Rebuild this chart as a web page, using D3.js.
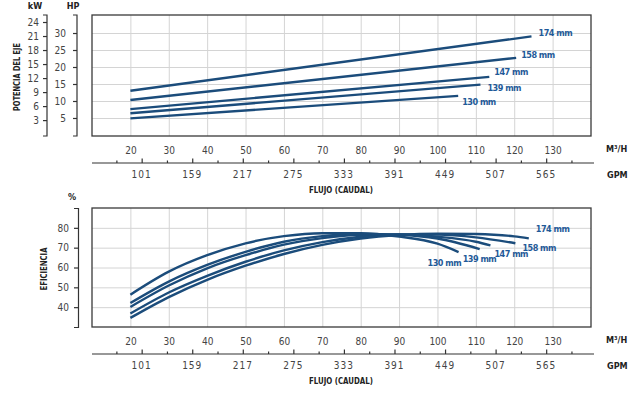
<!DOCTYPE html>
<html>
<head>
<meta charset="utf-8">
<script src="https://cdn.jsdelivr.net/npm/d3@7"></script>
<style>
  body { margin: 0; background: #fff; }
  svg text { font-family: "Liberation Sans Narrow", "DejaVu Sans Condensed", sans-serif; }
</style>
</head>
<body>
<div id="chart"></div>
<script>
// impeller sizes
const impellers = ['174 mm', '158 mm', '147 mm', '139 mm', '130 mm']

// shaft power (HP) vs flow (m3/h)
const power174 = [[20, 13.0], [124.5, 29.0]]
const power158 = [[20, 10.3], [120.5, 22.7]]
const power147 = [[20, 7.6], [113.5, 17.1]]
const power139 = [[20, 6.4], [111.2, 14.8]]
const power130 = [[20, 4.9], [105.4, 11.5]]

// efficiency (%) vs flow (m3/h)
const eff174 = [[20, 34.6], [30, 45.1], [40, 53.8], [50, 60.9], [60, 66.8], [70, 71.4], [80, 74.6], [90, 76.4], [100, 77.1], [110, 76.9], [120, 75.7], [123.8, 74.7]]
const eff158 = [[20, 36.8], [30, 47.4], [40, 55.8], [50, 62.9], [60, 68.6], [70, 72.8], [80, 75.5], [90, 76.7], [100, 76.6], [110, 75.2], [120.3, 72.2]]
const eff147 = [[20, 40.1], [30, 50.9], [40, 59.6], [50, 66.2], [60, 71.5], [70, 74.8], [80, 76.5], [90, 76.7], [100, 75.5], [110, 73.0], [113.8, 71.2]]
const eff139 = [[20, 42.1], [30, 52.9], [40, 61.3], [50, 67.9], [60, 73.0], [70, 75.8], [80, 76.9], [90, 76.5], [100, 74.6], [111, 69.3]]
const eff130 = [[20, 46.3], [30, 57.9], [40, 66.2], [50, 72.2], [60, 75.8], [70, 77.3], [80, 77.3], [90, 75.6], [100, 72.0], [105.5, 67.8]]

// tick labels
const flowTicks = [20, 30, 40, 50, 60, 70, 80, 90, 100, 110, 120, 130]
const gpmTicks = [101, 159, 217, 275, 333, 391, 449, 507, 565]
const gpmMinor = [72, 130, 188, 246, 304, 362, 420, 478, 536, 594]
const kwTicks = [3, 6, 9, 12, 15, 18, 21, 24]
const hpTicks = [5, 10, 15, 20, 25, 30]
const effTicks = [40, 50, 60, 70, 80]

const powerData = [power174, power158, power147, power139, power130]
const effData = [eff174, eff158, eff147, eff139, eff130]

// label placement relative to the line end (dx, dy)
const powerLabelOff = [[7, 0], [5, 0], [5, -2], [7, 6], [4, 9]]
const effLabelOff = [[7, -6], [7, 8], [4, 12], [-17, 13], [-31, 14]]

var W = 632, H = 399
var lineColor = '#1b4c7b'
var labelColor = '#1f5a98'
var gridColor = '#d4d4d4'
var tickColor = '#444'

var svg = d3.select('#chart').append('svg')
  .attr('width', W).attr('height', H)

var x = d3.scaleLinear().domain([10, 140]).range([92, 591])
var gpm = d3.scaleLinear().domain([10 * 4.403, 140 * 4.403]).range([92, 591])

var top1 = 15, bot1 = 136
var top2 = 208, bot2 = 327

var hp = d3.scaleLinear().domain([-0.3, 35.3]).range([bot1, top1])
var kw = d3.scaleLinear().domain([-0.4, 25.5]).range([bot1, top1])
var eff = d3.scaleLinear().domain([30, 90]).range([bot2, top2])

function styleAxis(g, size) {
  g.selectAll('path, line').attr('stroke', '#333').attr('stroke-width', 1.2)
  g.selectAll('text').attr('fill', tickColor).attr('font-size', size || 10)
}

function boldText(px, py, s, size) {
  return svg.append('text').attr('x', px).attr('y', py)
    .attr('font-size', size || 9).attr('font-weight', 'bold').attr('fill', '#222')
    .text(s)
}

function panel(yTop, yBot, yScale, yTicks) {
  // grid
  svg.append('g')
    .attr('transform', 'translate(0,' + yBot + ')')
    .call(d3.axisBottom(x).tickValues(flowTicks).tickSize(-(yBot - yTop)).tickFormat(''))
    .call(g => g.select('.domain').remove())
    .selectAll('line').attr('stroke', gridColor).attr('stroke-width', 1)
  svg.append('g')
    .attr('transform', 'translate(92,0)')
    .call(d3.axisLeft(yScale).tickValues(yTicks).tickSize(-(591 - 92)).tickFormat(''))
    .call(g => g.select('.domain').remove())
    .selectAll('line').attr('stroke', gridColor).attr('stroke-width', 1)
  // frame
  svg.append('rect')
    .attr('x', 92).attr('y', yTop)
    .attr('width', 591 - 92).attr('height', yBot - yTop)
    .attr('fill', 'none').attr('stroke', '#3a3a3a').attr('stroke-width', 1.3)

  // flow labels
  var g1 = svg.append('g')
    .attr('transform', 'translate(0,' + (yBot + 8) + ')')
    .call(d3.axisBottom(x).tickValues(flowTicks).tickSize(0))
  g1.select('.domain').remove()
  styleAxis(g1)

  // gpm axis
  var ly = yBot + 27
  var g2 = svg.append('g')
    .attr('transform', 'translate(0,' + ly + ')')
    .call(d3.axisTop(gpm).tickValues(gpmMinor).tickSize(2.5).tickSizeOuter(0).tickFormat(''))
  g2.select('.domain').attr('d', 'M92,0H594')
  styleAxis(g2)
  var g3 = svg.append('g')
    .attr('transform', 'translate(0,' + ly + ')')
    .call(d3.axisTop(gpm).tickValues(gpmTicks).tickSize(4.5).tickSizeOuter(0).tickFormat(''))
  g3.select('.domain').remove()
  styleAxis(g3)
  svg.append('g').selectAll('text')
    .data(gpmTicks).enter().append('text')
    .attr('x', d => gpm(d)).attr('y', ly + 15)
    .attr('text-anchor', 'middle')
    .attr('font-size', 10).attr('fill', tickColor)
    .attr('letter-spacing', 1)
    .text(d => d)

  boldText(606, yBot + 16, 'M³/H')
  boldText(607, ly + 15, 'GPM')
  boldText(341, ly + 30, 'FLUJO (CAUDAL)', 9.5)
    .attr('text-anchor', 'middle')
    .attr('textLength', 64).attr('lengthAdjust', 'spacingAndGlyphs')
}

panel(top1, bot1, hp, hpTicks)
panel(top2, bot2, eff, effTicks)

// left axes
var gkw = svg.append('g').attr('transform', 'translate(47,0)')
  .call(d3.axisLeft(kw).tickValues(kwTicks).tickSize(4).tickSizeOuter(4).tickPadding(4))
gkw.select('.domain').attr('d', 'M-4,' + top1 + 'H0V' + bot1 + 'H-4')
styleAxis(gkw)

var ghp = svg.append('g').attr('transform', 'translate(77,0)')
  .call(d3.axisLeft(hp).tickValues(hpTicks).tickSize(4).tickSizeOuter(4).tickPadding(7))
ghp.select('.domain').attr('d', 'M-4,' + top1 + 'H0V' + bot1 + 'H-4')
styleAxis(ghp)

var geff = svg.append('g').attr('transform', 'translate(78,0)')
  .call(d3.axisLeft(eff).tickValues(effTicks).tickSize(4).tickSizeOuter(4).tickPadding(5))
styleAxis(geff)

boldText(35, 9, 'kW').attr('text-anchor', 'middle')
boldText(73, 9, 'HP').attr('text-anchor', 'middle')
boldText(72, 200, '%').attr('text-anchor', 'middle')

svg.append('text')
  .attr('transform', 'translate(20,77) rotate(-90)')
  .attr('text-anchor', 'middle')
  .attr('font-size', 9.5).attr('font-weight', 'bold').attr('fill', '#222')
  .attr('textLength', 68).attr('lengthAdjust', 'spacingAndGlyphs')
  .text('POTENCIA DEL EJE')
svg.append('text')
  .attr('transform', 'translate(47,269) rotate(-90)')
  .attr('text-anchor', 'middle')
  .attr('font-size', 9.5).attr('font-weight', 'bold').attr('fill', '#222')
  .attr('textLength', 43).attr('lengthAdjust', 'spacingAndGlyphs')
  .text('EFICIENCIA')

// curves
var powerLine = d3.line().x(d => x(d[0])).y(d => hp(d[1]))
var effLine = d3.line().x(d => x(d[0])).y(d => eff(d[1])).curve(d3.curveMonotoneX)

svg.append('g').selectAll('path')
  .data(powerData).enter().append('path')
  .attr('d', d => powerLine(d))
  .attr('fill', 'none').attr('stroke', lineColor).attr('stroke-width', 2.4)

svg.append('g').selectAll('path')
  .data(effData).enter().append('path')
  .attr('d', d => effLine(d))
  .attr('fill', 'none').attr('stroke', lineColor).attr('stroke-width', 2.4)

function curveLabels(data, yScale, off) {
  svg.append('g').selectAll('text')
    .data(data).enter().append('text')
    .attr('x', (d, i) => x(d[d.length - 1][0]) + off[i][0])
    .attr('y', (d, i) => yScale(d[d.length - 1][1]) + off[i][1])
    .attr('font-size', 9).attr('font-weight', 'bold').attr('fill', labelColor)
    .attr('letter-spacing', -0.5)
    .text((d, i) => impellers[i])
}
curveLabels(powerData, hp, powerLabelOff)
curveLabels(effData, eff, effLabelOff)
</script>
</body>
</html>
